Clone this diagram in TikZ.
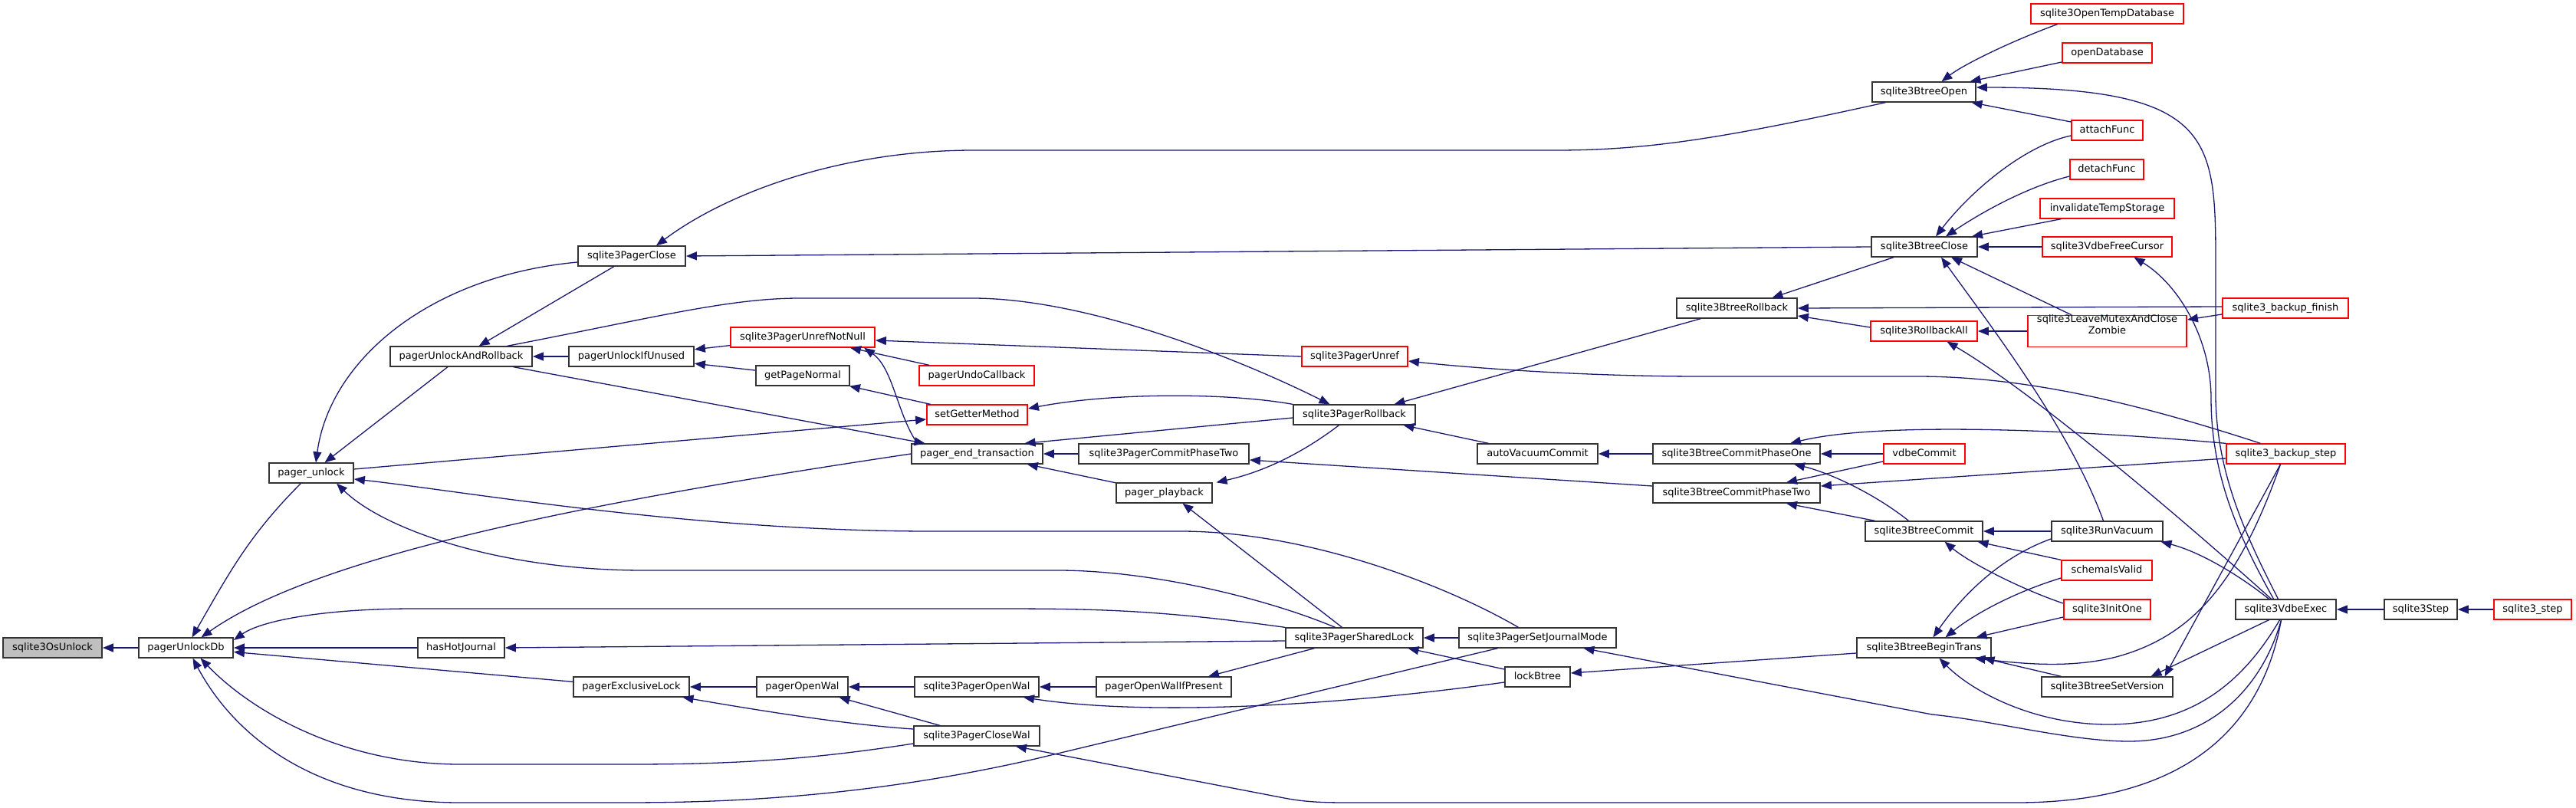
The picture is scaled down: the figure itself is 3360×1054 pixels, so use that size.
\documentclass[tikz,border=0pt]{standalone}
\usepackage{fontspec}
\setmainfont{DejaVu Sans}
\usepackage{xcolor}
\usetikzlibrary{arrows.meta,positioning,calc}
\definecolor{edgeblue}{RGB}{25,25,112}
\definecolor{rootgray}{RGB}{191,191,191}
\definecolor{boxred}{RGB}{255,0,0}
\tikzset{
  fnbox/.style={draw=black!80, line width=1.8pt, fill=white, inner sep=0pt, minimum height=25.5pt,
    text height=9.5pt, text depth=2.5pt, font=\fontsize{13}{15}\selectfont},
  fnred/.style={fnbox, draw=boxred},
  fnroot/.style={fnbox, fill=rootgray},
  callarrow/.style={-{Triangle[length=14pt,width=11pt]}, draw=edgeblue, line width=1.3pt},
}
\begin{document}
\begin{tikzpicture}[x=1pt, y=-1pt]
\useasboundingbox (0,0) rectangle (3360,1054);

  % Define the function boxes
\node[fnroot, minimum width=129pt] (osu) at (68.5,845) {sqlite3OsUnlock};
\node[fnbox, minimum width=123pt] (pud) at (242.5,845) {pagerUnlockDb};
\node[fnbox, minimum width=110pt] (pu) at (406,617) {pager\_unlock};
\node[fnbox, minimum width=113pt] (hhj) at (601.5,845) {hasHotJournal};
\node[fnbox, minimum width=185pt] (puar) at (601.5,465) {pagerUnlockAndRollback};
\node[fnbox, minimum width=140pt] (spc) at (824,334) {sqlite3PagerClose};
\node[fnbox, minimum width=163pt] (puiu) at (823.5,465) {pagerUnlockIfUnused};
\node[fnbox, minimum width=151pt] (pel) at (823.5,896) {pagerExclusiveLock};
\node[fnred, minimum width=188pt] (unn) at (1047,440) {sqlite3PagerUnrefNotNull};
\node[fnbox, minimum width=122pt] (gpn) at (1047,490) {getPageNormal};
\node[fnbox, minimum width=119pt] (pwl) at (1046.5,896) {pagerOpenWal};
\node[fnred, minimum width=150pt] (puc) at (1274,490) {pagerUndoCallback};
\node[fnred, minimum width=131pt] (sgm) at (1274.5,541) {setGetterMethod};
\node[fnbox, minimum width=171pt] (pet) at (1274.5,592) {pager\_end\_transaction};
\node[fnbox, minimum width=162pt] (spow) at (1274,896) {sqlite3PagerOpenWal};
\node[fnbox, minimum width=164pt] (csw) at (1274,960) {sqlite3PagerCloseWal};
\node[fnbox, minimum width=222pt] (cp2) at (1518,592) {sqlite3PagerCommitPhaseTwo};
\node[fnbox, minimum width=125pt] (ppb) at (1518.5,643) {pager\_playback};
\node[fnbox, minimum width=176pt] (owp) at (1518,896) {pagerOpenWalIfPresent};
\node[fnbox, minimum width=159pt] (spr) at (1766.5,541) {sqlite3PagerRollback};
\node[fnred, minimum width=138pt] (sunref) at (1767,465) {sqlite3PagerUnref};
\node[fnbox, minimum width=179pt] (sl) at (1766.5,832) {sqlite3PagerSharedLock};
\node[fnbox, minimum width=157pt] (avc) at (2005.5,592) {autoVacuumCommit};
\node[fnbox, minimum width=205pt] (sjm) at (2005.5,832) {sqlite3PagerSetJournalMode};
\node[fnbox, minimum width=85pt] (lbt) at (2005.5,883) {lockBtree};
\node[fnbox, minimum width=157pt] (btr) at (2265.5,402) {sqlite3BtreeRollback};
\node[fnbox, minimum width=218pt] (bc1) at (2265,592) {sqlite3BtreeCommitPhaseOne};
\node[fnbox, minimum width=218pt] (bc2) at (2265,643) {sqlite3BtreeCommitPhaseTwo};
\node[fnbox, minimum width=135pt] (bop) at (2509.5,120) {sqlite3BtreeOpen};
\node[fnbox, minimum width=138pt] (bcl) at (2510,322) {sqlite3BtreeClose};
\node[fnred, minimum width=139pt] (rba) at (2509.5,432) {sqlite3RollbackAll};
\node[fnred, minimum width=106pt] (vdc) at (2510,592) {vdbeCommit};
\node[fnbox, minimum width=153pt] (bcm) at (2509.5,693) {sqlite3BtreeCommit};
\node[fnbox, minimum width=175pt] (bbt) at (2509.5,845) {sqlite3BtreeBeginTrans};
\node[fnred, minimum width=199pt] (otd) at (2748.5,18) {sqlite3OpenTempDatabase};
\node[fnred, minimum width=117pt] (odb) at (2748.5,69) {openDatabase};
\node[fnred, minimum width=93pt] (att) at (2748.5,170) {attachFunc};
\node[fnred, minimum width=96pt] (dtf) at (2748,221) {detachFunc};
\node[fnred, minimum width=175pt] (its) at (2748.5,272) {invalidateTempStorage};
\node[fnred, minimum width=169pt] (vfc) at (2748.5,322) {sqlite3VdbeFreeCursor};
\node[fnred, minimum width=207pt, minimum height=41pt, align=center] (lmz) at (2748.5,432) {sqlite3LeaveMutexAndClose\\Zombie};
\node[fnbox, minimum width=145pt] (rvc) at (2748.5,693) {sqlite3RunVacuum};
\node[fnred, minimum width=118pt] (siv) at (2748,744) {schemaIsValid};
\node[fnred, minimum width=113pt] (io1) at (2748.5,795) {sqlite3InitOne};
\node[fnbox, minimum width=171pt] (bsv) at (2748.5,896) {sqlite3BtreeSetVersion};
\node[fnred, minimum width=164pt] (bfin) at (2981,402) {sqlite3\_backup\_finish};
\node[fnred, minimum width=155pt] (bstep) at (2981.5,592) {sqlite3\_backup\_step};
\node[fnbox, minimum width=131pt] (vex) at (2981.5,795) {sqlite3VdbeExec};
\node[fnbox, minimum width=95pt] (stp) at (3157.5,795) {sqlite3Step};
\node[fnred, minimum width=101pt] (s3s) at (3303.5,795) {sqlite3\_step};

  % Draw calls, arrow head at the callee
\draw[callarrow] (pud) -- (osu);
\draw[callarrow] (pu) to[out=-135,in=60] ([xshift=8pt]pud.north);
\draw[callarrow] (pet.west) .. controls (800,650) and (420,720) .. ([xshift=20pt]pud.north);
\draw[callarrow] (sl.north west) .. controls (1500,794) and (1420,794) .. (1280,794) -- (540,794) .. controls (420,794) and (340,810) .. ([yshift=10pt]pud.east);
\draw[callarrow] (hhj) -- (pud); \draw[callarrow] (pel) -- (pud);
\draw[callarrow] ([yshift=-10pt]csw.west) .. controls (1050,992) and (950,997) .. (820,997) -- (600,997) .. controls (450,997) and (330,930) .. ([xshift=19pt]pud.south);
\draw[callarrow] ([xshift=-52pt]sjm.south) -- (1350,990) .. controls (1100,1047) and (900,1047) .. (800,1047) -- (600,1047) .. controls (400,1047) and (300,950) .. ([xshift=9pt]pud.south);

\draw[callarrow] ([yshift=-8pt]spc.west) .. controls (560,360) and (430,470) .. ([xshift=6pt]pu.north);
\draw[callarrow] (puar) -- (pu);
\draw[callarrow] ([xshift=-25pt]sl.north) .. controls (1650,780) and (1500,744) .. (1380,744) -- (840,744) .. controls (650,744) and (500,690) .. ([xshift=33pt]pu.south);
\draw[callarrow] ([xshift=-25pt]sjm.north) .. controls (1880,760) and (1700,693) .. (1540,693) -- (1215,693) .. controls (900,693) and (600,640) .. ([yshift=-8pt]pu.east);
\draw[callarrow] ([yshift=5pt]pu.east) -- ([yshift=-6pt]sgm.west);

\draw[callarrow] (spc) -- (puar); \draw[callarrow] (puiu) -- (puar);
\draw[callarrow] (unn) -- (puiu); \draw[callarrow] (gpn) -- (puiu);
\draw[callarrow] (puc) -- (unn);
\draw[callarrow] ([xshift=-78pt]pet.north) .. controls (1170,540) and (1165,480) .. ([xshift=80pt]unn.south);
\draw[callarrow] (sunref.west) -- ([yshift=-4pt]unn.east);
\draw[callarrow] (sgm) -- (gpn);
\draw[callarrow] (spr.north west) .. controls (1600,512) and (1450,512) .. ([yshift=8pt]sgm.east);

\draw[callarrow] ([xshift=68pt]puar.south) -- ([xshift=-68pt]pet.north);
\draw[callarrow] ([yshift=-4pt]spr.west) -- ([xshift=62pt]pet.north);
\draw[callarrow] (cp2) -- (pet); \draw[callarrow] (ppb) -- (pet);
\draw[callarrow] ([xshift=-20pt]spr.south) .. controls (1700,590) and (1650,615) .. ([xshift=68pt]ppb.north);
\draw[callarrow] ([xshift=-16pt]sl.north) -- ([xshift=24pt]ppb.south);
\draw[callarrow] ([yshift=9pt]bc2.west) -- ([yshift=-8pt]cp2.east);

\draw[callarrow] ([xshift=60pt]puar.north) .. controls (850,415) and (950,389) .. (1043,389) -- (1268,389) .. controls (1420,389) and (1620,470) .. ([xshift=-32pt]spr.north);
\draw[callarrow] ([xshift=-47pt]btr.south) -- ([xshift=52pt]spr.north);
\draw[callarrow] (avc) -- (spr); \draw[callarrow] (bc1) -- (avc);
\draw[callarrow] ([xshift=-33pt]bstep.north) .. controls (2800,530) and (2650,491) .. (2500,491) -- (2220,491) .. controls (2050,491) and (1900,478) .. ([yshift=-6pt]sunref.east);

\draw[callarrow] ([xshift=-50pt]bop.south) .. controls (2250,180) and (2150,196) .. (2030,196) -- (1270,196) .. controls (1100,196) and (950,250) .. ([xshift=32pt]spc.north);
\draw[callarrow] (bcl.west) -- (spc.east);
\draw[callarrow] ([xshift=-40pt]bcl.south) -- ([xshift=46pt]btr.north);
\draw[callarrow] ([yshift=2pt]bfin.west) -- (btr.east);
\draw[callarrow] ([yshift=5pt]rba.west) -- ([yshift=-10pt]btr.east);

\draw[callarrow] ([xshift=-65pt]otd.south) .. controls (2620,55) and (2560,85) .. ([xshift=23pt]bop.north);
\draw[callarrow] ([yshift=-12pt]odb.west) -- ([xshift=60pt]bop.north);
\draw[callarrow] ([yshift=11pt]att.west) -- ([xshift=62pt]bop.south);
\draw[callarrow] ([xshift=-10pt]vex.north) .. controls (2930,700) and (2892,620) .. (2890,520) -- (2890,350) .. controls (2890,180) and (2890,114) .. ([yshift=6pt]bop.east);
\draw[callarrow] ([xshift=-16pt]vex.north) .. controls (2920,700) and (2884,620) .. (2884,520) .. controls (2884,440) and (2840,370) .. ([xshift=35pt]vfc.south);

\draw[callarrow] ([yshift=-7pt]att.west) .. controls (2640,190) and (2570,250) .. ([xshift=15pt]bcl.north);
\draw[callarrow] ([yshift=-9pt]dtf.west) .. controls (2640,245) and (2580,280) .. ([xshift=28pt]bcl.north);
\draw[callarrow] ([xshift=-60pt]its.south) -- ([xshift=62pt]bcl.north);
\draw[callarrow] (vfc) -- (bcl);
\draw[callarrow] ([xshift=-47pt]lmz.north) -- ([xshift=35pt]bcl.south);
\draw[callarrow] ([xshift=-5pt]rvc.north) .. controls (2700,560) and (2600,430) .. ([xshift=22pt]bcl.south);
\draw[callarrow] (lmz) -- (rba);
\draw[callarrow] ([xshift=-19pt]vex.north) .. controls (2850,680) and (2650,510) .. ([xshift=30pt]rba.south);
\draw[callarrow] ([yshift=-8pt]bfin.west) -- ([yshift=15pt]lmz.east);

\draw[callarrow] (vdc) -- (bc1);
\draw[callarrow] (bstep.north west) .. controls (2700,560) and (2450,550) .. ([xshift=70pt]bc1.north);
\draw[callarrow] ([xshift=-20pt]bcm.north) .. controls (2440,640) and (2380,615) .. ([xshift=75pt]bc1.south);
\draw[callarrow] ([yshift=-10pt]vdc.west) -- ([xshift=65pt]bc2.north);
\draw[callarrow] ([yshift=-6pt]bstep.west) -- ([yshift=9pt]bc2.east);
\draw[callarrow] ([xshift=-64pt]bcm.north) -- ([xshift=65pt]bc2.south);

\draw[callarrow] (rvc) -- (bcm);
\draw[callarrow] (siv.north west) -- ([xshift=70pt]bcm.south);
\draw[callarrow] ([yshift=8pt]io1.west) .. controls (2640,770) and (2570,735) .. ([xshift=27pt]bcm.south);

\draw[callarrow] ([yshift=-10pt]rvc.west) .. controls (2600,730) and (2550,790) .. ([xshift=12pt]bbt.north);
\draw[callarrow] ([yshift=-10pt]siv.west) .. controls (2620,775) and (2570,805) .. ([xshift=28pt]bbt.north);
\draw[callarrow] ([yshift=-10pt]io1.west) -- ([xshift=68pt]bbt.north);
\draw[callarrow] ([xshift=-60pt]bsv.north) -- ([xshift=78pt]bbt.south);
\draw[callarrow] ([xshift=-7pt]bstep.south) .. controls (2920,760) and (2860,830) .. (2760,857) .. controls (2700,872) and (2640,866) .. ([xshift=66pt]bbt.south);
\draw[callarrow] ([xshift=-8pt]vex.south) .. controls (2920,900) and (2850,945) .. (2750,945) .. controls (2650,945) and (2570,900) .. ([xshift=20pt]bbt.south);

\draw[callarrow] ([xshift=-22pt]vex.south) -- ([xshift=57pt]bsv.north);
\draw[callarrow] ([xshift=-7pt]bstep.south) -- ([xshift=75pt]bsv.north);
\draw[callarrow] ([xshift=-22pt]vex.north) .. controls (2920,750) and (2870,720) .. ([xshift=70pt]rvc.south);
\draw[callarrow] ([xshift=-6pt]vex.south) .. controls (2950,900) and (2880,967) .. (2777,967) .. controls (2700,967) and (2600,940) .. (2520,932) -- ([xshift=60pt]sjm.south);
\draw[callarrow] ([xshift=-6pt]vex.south) .. controls (2950,950) and (2850,1047) .. (2630,1047) -- (1760,1047) .. controls (1720,1047) and (1700,1046) .. (1670,1040) -- ([xshift=51pt]csw.south);

\draw[callarrow] (sjm) -- (sl);
\draw[callarrow] ([yshift=10pt]lbt.west) -- ([xshift=70pt]sl.south);
\draw[callarrow] ([xshift=-52pt]sl.south) -- ([xshift=58pt]owp.north);
\draw[callarrow] ([yshift=-4pt]sl.west) -- (hhj.east);
\draw[callarrow] ([yshift=-7pt]bbt.west) -- ([yshift=5pt]lbt.east);
\draw[callarrow] (owp) -- (spow);
\draw[callarrow] ([yshift=-7pt]lbt.west) .. controls (1750,920) and (1500,935) .. ([xshift=61pt]spow.south);
\draw[callarrow] (spow) -- (pwl);
\draw[callarrow] ([xshift=-48pt]csw.north) -- ([xshift=48pt]pwl.south);
\draw[callarrow] (pwl) -- (pel);
\draw[callarrow] ([yshift=9pt]csw.west) .. controls (1100,945) and (980,925) .. ([xshift=67pt]pel.south);
\draw[callarrow] (stp) -- (vex); \draw[callarrow] (s3s) -- (stp);

\end{tikzpicture}
\end{document}
